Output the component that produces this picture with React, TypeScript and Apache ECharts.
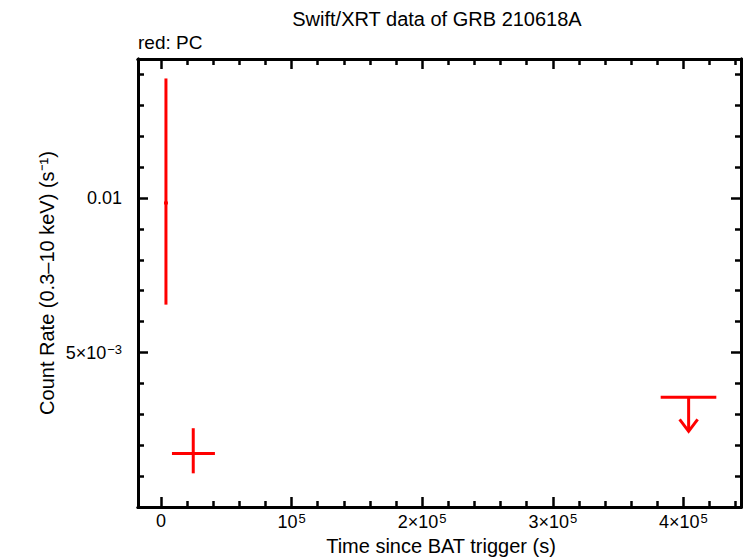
import React, { useEffect, useRef } from "react";
import * as echarts from "echarts";

// ---- Data ----
const times = [3800, 24700];
const timeErrMinus = [1500, 16300];
const timeErrPlus = [1500, 16600];
const rates = [0.00984, 0.00173];
const rateErrMinus = [0.00329, 0.00064];
const rateErrPlus = [0.00403, 0.00082];

const ulTimes = [404000];
const ulTimeStart = [382600];
const ulTimeEnd = [425200];
const ulRates = [0.00355];
const ulArrowTo = [0.00245];

const xMin = -17600;
const xMax = 444100;
const yMin = 0;
const yMax = 0.0145;

const xMajorTicks = [0, 100000, 200000, 300000, 400000];
const xTickLabels = ["0", "10{sup|5}", "2×10{sup|5}", "3×10{sup|5}", "4×10{sup|5}"];
const xMinorTicks = [
  20000, 40000, 60000, 80000, 120000, 140000, 160000, 180000, 220000, 240000,
  260000, 280000, 320000, 340000, 360000, 380000, 420000, 440000,
];
const yMajorTicks = [0.005, 0.01];
const yTickLabels = ["5×10{sup|−3}", "0.01"];
const yMinorTicks = [
  0.001, 0.002, 0.003, 0.004, 0.006, 0.007, 0.008, 0.009, 0.011, 0.012, 0.013,
  0.014,
];

const titleText = "Swift/XRT data of GRB 210618A";
const subtitleText = "red: PC";
const xName = "Time since BAT trigger (s)";
const yName = "Count Rate (0.3–10 keV) (s⁻¹)";

const FONT = "'Liberation Sans', Arial, Helvetica, sans-serif";
const RED = "#ff0000";

function labelFor(values: number[], labels: string[], v: number) {
  const i = values.findIndex((x) => Math.abs(x - v) < 1e-9 * Math.max(1, Math.abs(x)));
  return i >= 0 ? labels[i] : "";
}

const supRich = {
  sup: { fontSize: 13, fontFamily: FONT, color: "#000", verticalAlign: "top", padding: [0, 0, 6, 1] },
};

export default function App() {
  const ref = useRef<HTMLDivElement>(null);

  useEffect(() => {
    if (!ref.current) return;
    const chart = echarts.init(ref.current, null, { renderer: "svg" });

    const pointData = times.map((t, i) => [
      t,
      t - timeErrMinus[i],
      t + timeErrPlus[i],
      rates[i],
      rates[i] - rateErrMinus[i],
      rates[i] + rateErrPlus[i],
    ]);
    const ulData = ulTimes.map((t, i) => [
      t,
      ulTimeStart[i],
      ulTimeEnd[i],
      ulRates[i],
      ulArrowTo[i],
    ]);

    const axisLine = { show: true, onZero: false, lineStyle: { color: "#000", width: 3 } };
    const hidden = { show: false };

    const xBase = (position: string, ticks: number[], len: number, labels: boolean) => ({
      type: "value",
      position,
      min: xMin,
      max: xMax,
      axisLine,
      splitLine: hidden,
      axisTick: {
        show: true,
        inside: true,
        length: len,
        customValues: ticks,
        lineStyle: { color: "#000", width: 2.5 },
      },
      axisLabel: labels
        ? {
            show: true,
            customValues: xMajorTicks,
            margin: 5,
            color: "#000",
            fontSize: 18,
            fontFamily: FONT,
            rich: supRich,
            formatter: (v: number) => labelFor(xMajorTicks, xTickLabels, v),
          }
        : { show: false },
    });
    const yBase = (position: string, ticks: number[], len: number, labels: boolean) => ({
      type: "value",
      position,
      min: yMin,
      max: yMax,
      axisLine,
      splitLine: hidden,
      axisTick: {
        show: true,
        inside: true,
        length: len,
        customValues: ticks,
        lineStyle: { color: "#000", width: 2.5 },
      },
      axisLabel: labels
        ? {
            show: true,
            customValues: yMajorTicks,
            margin: 16,
            color: "#000",
            fontSize: 18,
            fontFamily: FONT,
            rich: supRich,
            formatter: (v: number) => labelFor(yMajorTicks, yTickLabels, v),
          }
        : { show: false },
    });

    chart.setOption({
      animation: false,
      backgroundColor: "#fff",
      grid: { left: 138, right: 5, top: 59, bottom: 51, containLabel: false },
      xAxis: [
        xBase("bottom", xMajorTicks, 10, true),
        xBase("bottom", xMinorTicks, 6, false),
        xBase("top", xMajorTicks, 10, false),
        xBase("top", xMinorTicks, 6, false),
      ],
      yAxis: [
        yBase("left", yMajorTicks, 10, true),
        yBase("left", yMinorTicks, 6, false),
        yBase("right", yMajorTicks, 10, false),
        yBase("right", yMinorTicks, 6, false),
      ],
      graphic: [
        {
          type: "text",
          x: 437,
          y: 19,
          style: {
            text: titleText,
            fill: "#000",
            font: `20px ${FONT}`,
            textAlign: "center",
            textVerticalAlign: "middle",
          },
        },
        {
          type: "text",
          x: 138,
          y: 42,
          style: {
            text: subtitleText,
            fill: "#000",
            font: `19px ${FONT}`,
            textAlign: "left",
            textVerticalAlign: "middle",
          },
        },
        {
          type: "text",
          x: 441,
          y: 546,
          style: {
            text: xName,
            fill: "#000",
            font: `20px ${FONT}`,
            textAlign: "center",
            textVerticalAlign: "middle",
          },
        },
        {
          type: "text",
          x: 47,
          y: 283,
          rotation: Math.PI / 2,
          style: {
            text: yName,
            fill: "#000",
            font: `20px ${FONT}`,
            textAlign: "center",
            textVerticalAlign: "middle",
          },
        },
      ],
      series: [
        {
          type: "custom",
          xAxisIndex: 0,
          yAxisIndex: 0,
          encode: { x: [0, 1, 2], y: [3, 4, 5] },
          data: pointData,
          renderItem: (_params: any, api: any) => {
            const t = api.value(0);
            const tl = api.value(1);
            const th = api.value(2);
            const r = api.value(3);
            const rl = api.value(4);
            const rh = api.value(5);
            const a = api.coord([tl, r]);
            const b = api.coord([th, r]);
            const c = api.coord([t, rl]);
            const d = api.coord([t, rh]);
            const style = { stroke: RED, lineWidth: 3 };
            return {
              type: "group",
              children: [
                { type: "line", shape: { x1: a[0], y1: a[1], x2: b[0], y2: b[1] }, style },
                { type: "line", shape: { x1: c[0], y1: c[1], x2: d[0], y2: d[1] }, style },
              ],
            };
          },
        },
        {
          type: "custom",
          xAxisIndex: 0,
          yAxisIndex: 0,
          encode: { x: [0, 1, 2], y: [3, 4] },
          data: ulData,
          renderItem: (_params: any, api: any) => {
            const t = api.value(0);
            const ts = api.value(1);
            const te = api.value(2);
            const r = api.value(3);
            const rTo = api.value(4);
            const a = api.coord([ts, r]);
            const b = api.coord([te, r]);
            const c = api.coord([t, r]);
            const tip = api.coord([t, rTo]);
            const style = { stroke: RED, lineWidth: 3, fill: "none" };
            return {
              type: "group",
              children: [
                { type: "line", shape: { x1: a[0], y1: a[1], x2: b[0], y2: b[1] }, style },
                { type: "line", shape: { x1: c[0], y1: c[1], x2: tip[0], y2: tip[1] }, style },
                {
                  type: "polyline",
                  shape: {
                    points: [
                      [tip[0] - 9, tip[1] - 12],
                      [tip[0], tip[1]],
                      [tip[0] + 9, tip[1] - 12],
                    ],
                  },
                  style,
                },
              ],
            };
          },
        },
      ],
    });

    return () => chart.dispose();
  }, []);

  return <div ref={ref} style={{ width: 746, height: 558, position: "absolute", left: 0, top: 0 }} />;
}
